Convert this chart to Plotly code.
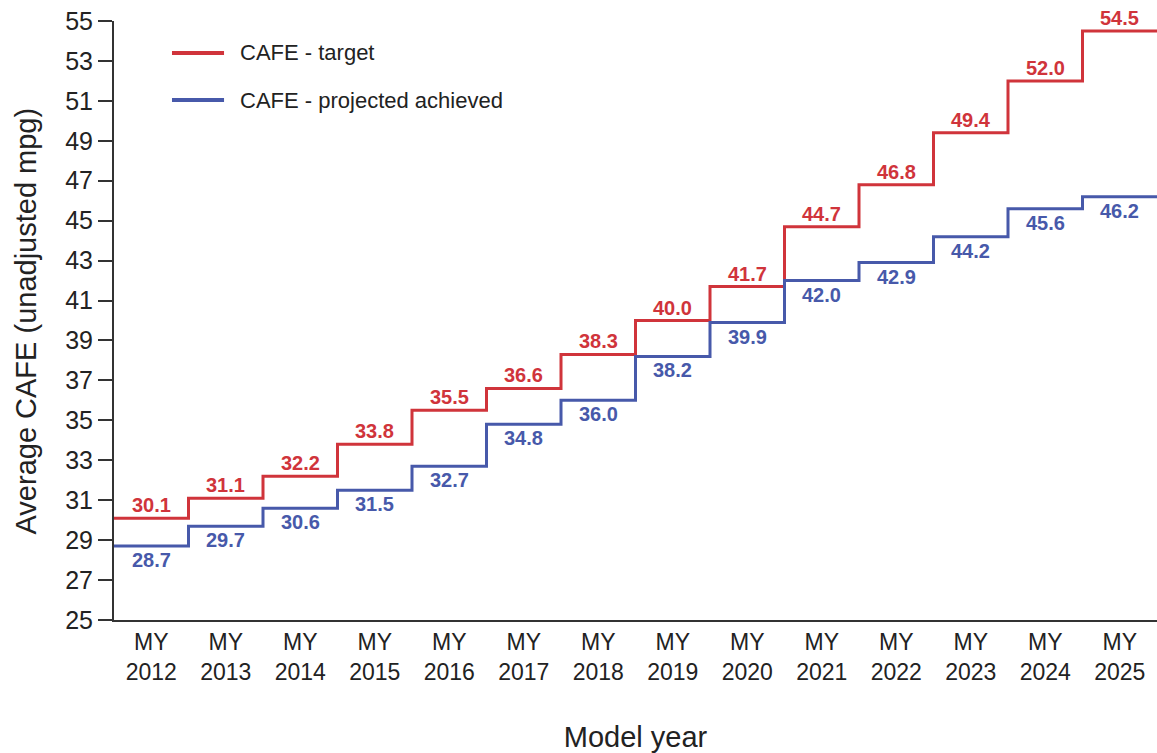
import plotly.graph_objects as go

years = ["2012", "2013", "2014", "2015", "2016", "2017", "2018", "2019",
         "2020", "2021", "2022", "2023", "2024", "2025"]
target = [30.1, 31.1, 32.2, 33.8, 35.5, 36.6, 38.3, 40.0, 41.7, 44.7, 46.8, 49.4, 52.0, 54.5]
achieved = [28.7, 29.7, 30.6, 31.5, 32.7, 34.8, 36.0, 38.2, 39.9, 42.0, 42.9, 44.2, 45.6, 46.2]
series_names = ["CAFE - target", "CAFE - projected achieved"]

RED = "#d0343b"
BLUE = "#4759aa"
TXT = "#222222"
FONT = "Liberation Sans, Arial, sans-serif"

n = len(years)
edges = list(range(n + 1))
centers = [i + 0.5 for i in range(n)]

fig = go.Figure()
fig.add_trace(go.Scatter(
    x=edges, y=target + [target[-1]], mode="lines", line_shape="hv",
    line=dict(color=RED, width=3), name=series_names[0], showlegend=False))
fig.add_trace(go.Scatter(
    x=edges, y=achieved + [achieved[-1]], mode="lines", line_shape="hv",
    line=dict(color=BLUE, width=3), name=series_names[1], showlegend=False))

# value labels
for xc, v in zip(centers, target):
    fig.add_annotation(x=xc, y=v, text=f"<b>{v:.1f}</b>", showarrow=False,
                       xanchor="center", yanchor="middle", yshift=13,
                       font=dict(size=20, color=RED, family=FONT))
for xc, v in zip(centers, achieved):
    fig.add_annotation(x=xc, y=v, text=f"<b>{v:.1f}</b>", showarrow=False,
                       xanchor="center", yanchor="middle", yshift=-14,
                       font=dict(size=20, color=BLUE, family=FONT))

# manual legend (paper coordinates)
legend_y = [0.9466, 0.8681]
for name, col, ly in zip(series_names, [RED, BLUE], legend_y):
    fig.add_shape(type="line", xref="paper", yref="paper", x0=0.0556, x1=0.1055,
                  y0=ly, y1=ly, line=dict(color=col, width=4))
    fig.add_annotation(xref="paper", yref="paper", x=0.1189, y=ly, text=name,
                       showarrow=False, xanchor="left", yanchor="middle",
                       font=dict(size=22, color=TXT, family=FONT))

# y-axis title
fig.add_annotation(xref="paper", yref="paper", x=-0.0844, y=0.5,
                   text="Average CAFE (unadjusted mpg)", textangle=-90,
                   showarrow=False, xanchor="center", yanchor="middle",
                   font=dict(size=29, color=TXT, family=FONT))

fig.update_layout(
    width=1157, height=753,
    margin=dict(l=114, r=0, t=21, b=133),
    plot_bgcolor="white", paper_bgcolor="white",
    font=dict(family=FONT, color=TXT),
    showlegend=False,
    xaxis=dict(range=[0, n], tickvals=centers,
               ticktext=[f"MY<br>{y}" for y in years],
               showgrid=False, zeroline=False, showline=True, automargin=False,
               linecolor="#333333", linewidth=2, ticks="",
               tickfont=dict(size=23, color=TXT),
               title=dict(text="Model year", font=dict(size=29, color=TXT), standoff=44)),
    yaxis=dict(range=[25, 55], tickvals=list(range(25, 56, 2)),
               showgrid=False, zeroline=False, showline=True, automargin=False,
               linecolor="#333333", linewidth=2, ticks="outside", ticklen=14,
               tickwidth=2, tickcolor="#333333",
               tickfont=dict(size=25, color=TXT)),
)

fig.write_html("out.html", config={"displayModeBar": False},
               post_script="document.body.style.margin='0';document.body.style.overflow='hidden';")
